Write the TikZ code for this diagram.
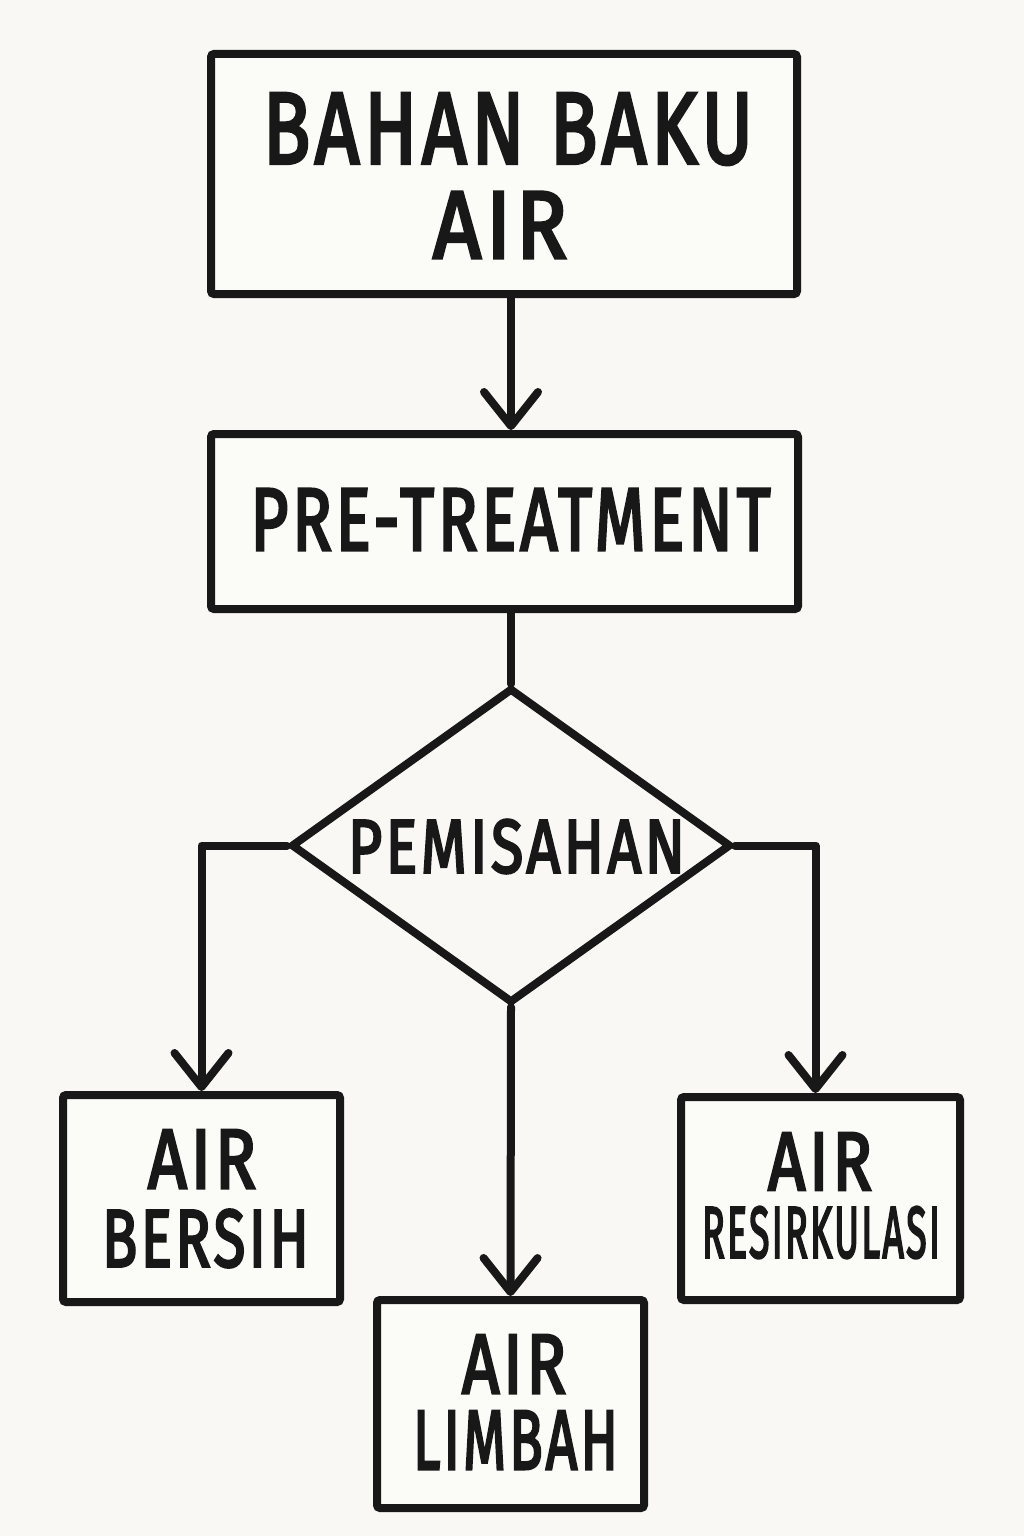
\documentclass[tikz,border=0pt]{standalone}
\usepackage{fontspec}
\usepackage{graphicx}
\setmainfont{Fira Sans}
\newfontfamily\labfont{Fira Sans}[LetterSpace=6, FakeBold=3.5]
\usetikzlibrary{arrows.meta,shapes.geometric}
\definecolor{bg}{RGB}{249,248,244}
\definecolor{ink}{RGB}{24,24,24}
\newcommand\fitt[3]{\resizebox{#1pt}{#2pt}{\labfont #3}}
\tikzset{
  boxnode/.style={draw=ink, line width=8pt, rounded corners=3pt, inner sep=0pt, fill=white!40!bg},
  txt/.style={inner sep=0pt, outer sep=0pt, text=ink, anchor=center},
  conn/.style={draw=ink, line width=8pt, line cap=round, line join=round},
  arr/.style={conn, -{Straight Barb[length=34pt,width=54pt,round]}},
}
\begin{document}
\begin{tikzpicture}[x=1pt,y=-1pt]
\fill[bg] (0,0) rectangle (1024,1536);
\useasboundingbox (0,0) rectangle (1024,1536);
% boxes
\node[boxnode, minimum width=586pt, minimum height=240pt] (b1) at (504,174) {};
\node[boxnode, minimum width=587pt, minimum height=175pt] (b2) at (504.5,521.5) {};
\node[draw=ink, line width=8pt, shape=diamond, inner sep=0pt, minimum width=440pt, minimum height=315pt, line join=round] (dia) at (511,845.5) {};
\node[boxnode, minimum width=277pt, minimum height=207pt] (bersih) at (201.5,1198.5) {};
\node[boxnode, minimum width=279pt, minimum height=203pt] (resirk) at (820.5,1198.5) {};
\node[boxnode, minimum width=267pt, minimum height=208pt] (limbah) at (510.5,1404) {};
% texts
\node[txt] (t1a) at (508,129) {\fitt{490}{70}{BAHAN BAKU}};
\node[txt] (t1b) at (500,225) {\fitt{134}{66}{AIR}};
\node[txt] (t2) at (510.5,519.5) {\fitt{520}{61}{PRE-TREATMENT}};
\node[txt] (t3) at (516.5,846.5) {\fitt{337}{53}{PEMISAHAN}};
\node[txt] (t4a) at (202,1159) {\fitt{108}{58}{AIR}};
\node[txt] (t4b) at (205.5,1238.5) {\fitt{207}{57}{BERSIH}};
\node[txt] (t5a) at (820,1161.5) {\fitt{104}{57}{AIR}};
\node[txt] (t5b) at (821,1232.5) {\fitt{238}{51}{RESIRKULASI}};
\node[txt] (t6a) at (514,1364) {\fitt{104}{58}{AIR}};
\node[txt] (t6b) at (515.5,1440) {\fitt{205}{58}{LIMBAH}};
% connectors
\draw[arr] (b1.south -| dia.north) -- (b2.north -| dia.north);
\draw[conn] (b2.south -| dia.north) -- (dia.north);
\draw[arr] (dia.west) -| (bersih.north);
\draw[arr] (dia.east) -| ([xshift=-5pt]resirk.north);
\draw[arr] (dia.south) -- (limbah.north);
\end{tikzpicture}
\end{document}
